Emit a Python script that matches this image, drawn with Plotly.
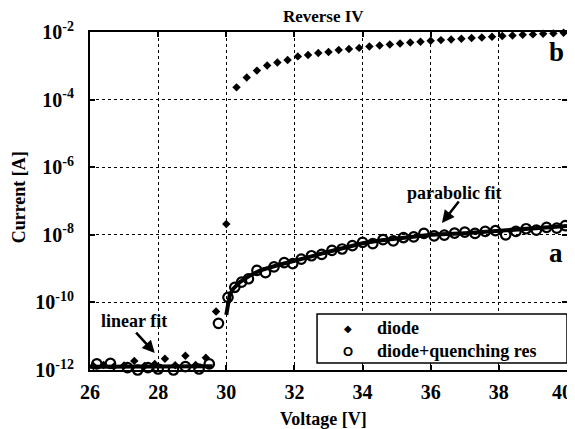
import plotly.graph_objs as go

# diode (filled diamonds), voltage [V] and current [A]
diode_v = [26.1, 26.4, 26.7, 27.0, 27.3, 27.6, 27.9, 28.2, 28.5, 28.8, 29.1, 29.4,
           29.7, 30.0, 30.3, 30.6, 30.9, 31.2, 31.5, 31.8, 32.1, 32.4, 32.7, 33.0,
           33.3, 33.6, 33.9, 34.2, 34.5, 34.8, 35.1, 35.4, 35.7, 36.0, 36.3, 36.6,
           36.9, 37.2, 37.5, 37.8, 38.1, 38.4, 38.7, 39.0, 39.3, 39.6, 39.9]
diode_i = [1.32e-12, 1.41e-12, 1.26e-12, 1.35e-12, 1.86e-12, 1.32e-12, 1.51e-12,
           2.14e-12, 1.38e-12, 2.63e-12, 1.41e-12, 2.29e-12,
           5.4e-11, 2.1e-8,
           2.3e-4, 4.5e-4, 7.2e-4, 1.02e-3, 1.26e-3, 1.48e-3, 1.9e-3, 2.1e-3,
           2.4e-3, 2.57e-3, 2.95e-3, 3.16e-3, 3.39e-3, 3.7e-3, 4.0e-3, 4.27e-3,
           4.57e-3, 4.9e-3, 5.13e-3, 5.5e-3, 5.75e-3, 6.0e-3, 6.3e-3, 6.6e-3,
           6.9e-3, 7.2e-3, 7.6e-3, 7.9e-3, 8.3e-3, 8.5e-3, 8.9e-3, 9.1e-3, 9.5e-3]

# diode + quenching resistor (open circles)
dqr_v = [26.2, 26.6, 27.1, 27.4, 27.7, 28.0, 28.45, 28.8, 29.2, 29.5, 29.77,
         30.05, 30.25, 30.45, 30.65, 30.9, 31.15, 31.4, 31.7, 31.95, 32.2, 32.5,
         32.8, 33.1, 33.4, 33.7, 34.0, 34.3, 34.6, 34.9, 35.2, 35.5, 35.8, 36.1,
         36.4, 36.7, 37.0, 37.3, 37.6, 37.9, 38.2, 38.5, 38.8, 39.1, 39.4, 39.7, 39.95]
dqr_i = [1.51e-12, 1.58e-12, 1.17e-12, 1.0e-12, 1.17e-12, 1.07e-12, 1.0e-12,
         1.26e-12, 1.07e-12, 1.51e-12, 2.4e-11,
         1.41e-10, 2.8e-10, 4.0e-10, 5.0e-10, 8.9e-10, 7.6e-10, 1.12e-9, 1.51e-9,
         1.41e-9, 1.91e-9, 2.4e-9, 2.63e-9, 3.47e-9, 3.8e-9, 4.8e-9, 6.0e-9,
         5.5e-9, 7.2e-9, 6.6e-9, 8.3e-9, 8.7e-9, 1.10e-8, 9.3e-9, 9.8e-9,
         1.12e-8, 1.20e-8, 1.10e-8, 1.26e-8, 1.32e-8, 1.0e-8, 1.26e-8, 1.51e-8,
         1.38e-8, 1.66e-8, 1.58e-8, 1.86e-8]

# fits
lin_v = [26.0, 29.6]
lin_i = [1.25e-12, 1.3e-12]
par_v = [30.0, 30.05, 30.1, 30.2, 30.4, 30.7, 31.0, 31.5, 32.0, 32.5, 33.0,
         33.5, 34.0, 34.5, 35.0, 35.5, 36.0, 37.0, 38.0, 39.0, 40.0]
par_i = [4.3e-11, 1.0e-10, 1.66e-10, 2.5e-10, 4.0e-10, 6.3e-10, 8.9e-10, 1.26e-9,
         1.66e-9, 2.3e-9, 3.16e-9, 4.3e-9, 5.6e-9, 6.8e-9, 7.9e-9, 8.9e-9,
         1.0e-8, 1.12e-8, 1.29e-8, 1.51e-8, 1.82e-8]

y_tickvals = [1e-12, 1e-10, 1e-8, 1e-6, 1e-4, 1e-2]
y_ticktext = ["10<sup>-12</sup>", "10<sup>-10</sup>", "10<sup>-8</sup>",
              "10<sup>-6</sup>", "10<sup>-4</sup>", "10<sup>-2</sup>"]
x_tickvals = [26, 28, 30, 32, 34, 36, 38, 40]
# last label padded so it stays inside the page
x_ticktext = ["26", "28", "30", "32", "34", "36", "38", "40\u00a0\u00a0"]

legend_names = ["diode", "diode+quenching res"]

serif = "Liberation Serif"

fig = go.Figure()
fig.add_trace(go.Scatter(x=lin_v, y=lin_i, mode='lines', showlegend=False,
                         line=dict(color='black', width=4), cliponaxis=False))
fig.add_trace(go.Scatter(x=par_v, y=par_i, mode='lines', showlegend=False,
                         line=dict(color='black', width=4)))
fig.add_trace(go.Scatter(x=diode_v, y=diode_i, mode='markers', name=legend_names[0],
                         marker=dict(symbol='diamond', size=6.5, color='black'),
                         cliponaxis=False, showlegend=False))
fig.add_trace(go.Scatter(x=dqr_v, y=dqr_i, mode='markers', name=legend_names[1],
                         marker=dict(symbol='circle-open', size=9.5, color='black',
                                     line=dict(width=2.2, color='black')),
                         cliponaxis=False, showlegend=False))

axis_common = dict(showline=True, linecolor='black', linewidth=2, mirror='ticks',
                   ticks='inside', ticklen=5, tickcolor='black', tickwidth=1.5,
                   showgrid=True, gridcolor='black', gridwidth=1.3, griddash='dot',
                   zeroline=False, automargin=False, ticklabeloverflow='allow',
                   tickfont=dict(family=serif, size=20, color='black', weight='bold'))

fig.update_xaxes(range=[26, 40], tickvals=x_tickvals, ticktext=x_ticktext,
                 ticklabelstandoff=3, **axis_common)
fig.update_yaxes(type='log', range=[-12, -2], tickvals=y_tickvals,
                 ticktext=y_ticktext, ticklabelstandoff=10, **axis_common)

# the page adds an 8px body margin, so the figure is sized to 567x421
fig.update_layout(
    width=567, height=421,
    margin=dict(l=82, r=8, t=24, b=59, autoexpand=False),
    paper_bgcolor='white', plot_bgcolor='white',
    font=dict(family=serif, color='black', weight='bold'),
    title=dict(text="Reverse IV", x=0.556, xanchor='center', y=0.994,
               yanchor='top', yref='container',
               font=dict(family=serif, size=17, color='black', weight='bold')),
    showlegend=False,
)

# legend box (drawn by hand so its size matches the original)
fig.add_shape(type='rect', xref='paper', yref='paper', x0=0.476, x1=1.0,
              y0=0.021, y1=0.166, line=dict(color='black', width=1.5),
              fillcolor='white', layer='above')
fig.add_annotation(text="◆", xref='paper', yref='paper', x=0.541, y=0.124,
                   xanchor='center', yanchor='middle', showarrow=False,
                   font=dict(family="DejaVu Sans", size=10))
fig.add_annotation(text="O", xref='paper', yref='paper', x=0.541, y=0.056,
                   xanchor='center', yanchor='middle', showarrow=False,
                   font=dict(family="Liberation Sans", size=13, weight='bold'))
for name, ypos in zip(legend_names, [0.124, 0.056]):
    fig.add_annotation(text=name, xref='paper', yref='paper', x=0.5975, y=ypos,
                       xanchor='left', yanchor='middle', showarrow=False,
                       font=dict(family=serif, size=18, weight='bold'))

# axis titles
fig.add_annotation(text="Voltage [V]", xref='paper', yref='paper', x=0.49, y=-0.145,
                   showarrow=False, xanchor='center', yanchor='middle',
                   font=dict(family=serif, size=18, weight='bold'))
fig.add_annotation(text="Current [A]", xref='paper', yref='paper', x=-0.148, y=0.512,
                   textangle=-90, showarrow=False, xanchor='center', yanchor='middle',
                   font=dict(family=serif, size=18, weight='bold'))

# curve labels
fig.add_annotation(x=39.68, y=-2.59, text="b", showarrow=False,
                   font=dict(family=serif, size=27, weight='bold'))
fig.add_annotation(x=39.68, y=-8.54, text="a", showarrow=False,
                   font=dict(family=serif, size=27, weight='bold'))

# fit labels with arrows
fig.add_annotation(x=36.7, y=-6.76, text="parabolic fit", showarrow=False,
                   font=dict(family=serif, size=18, weight='bold'))
fig.add_annotation(x=36.33, y=-7.65, ax=18, ay=-23, text="", showarrow=True,
                   arrowhead=2, arrowsize=1, arrowwidth=2.5, arrowcolor='black')
fig.add_annotation(x=27.29, y=-10.55, text="linear fit", showarrow=False,
                   font=dict(family=serif, size=18, weight='bold'))
fig.add_annotation(x=27.9, y=-11.5, ax=-20, ay=-22, text="", showarrow=True,
                   arrowhead=2, arrowsize=1, arrowwidth=2.5, arrowcolor='black')

fig.write_html("out.html")
